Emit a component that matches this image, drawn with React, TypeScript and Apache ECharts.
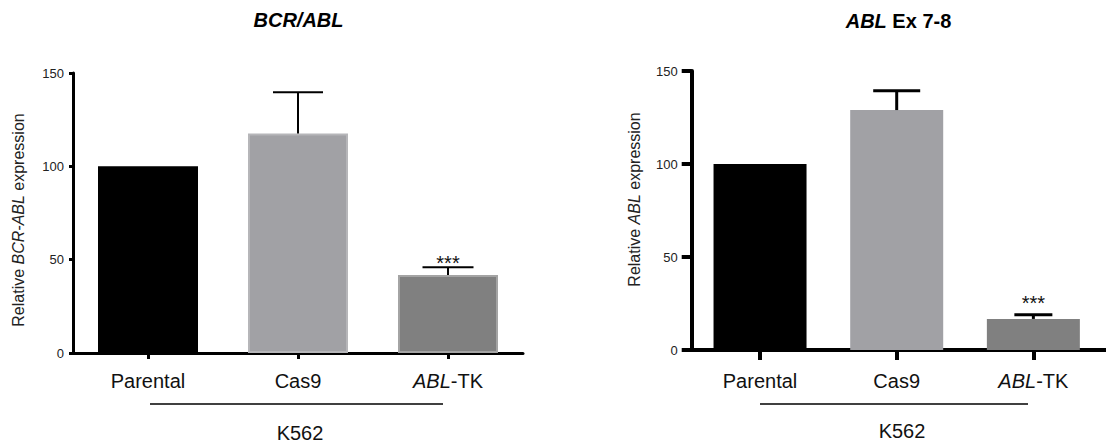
import React, { useEffect, useRef } from "react";
import * as echarts from "echarts";

const categories = ["Parental", "Cas9", "ABL-TK"];
const leftMeans = [100, 117.6, 41.8];
const leftErrors = [0, 22.1, 4.1];
const rightMeans = [100, 129.0, 16.7];
const rightErrors = [0, 10.4, 2.3];
const significance = ["", "", "***"];
const yTicks = { min: 0, max: 150, interval: 50 };

const FONT = "'Liberation Sans', Arial, Helvetica, sans-serif";

const leftFill = ["#000000", "#a1a1a5", "#808080"];
const leftBorder = ["#000000", "#b6b6b9", "#a4a4a4"];
const rightFill = ["#000000", "#a1a1a5", "#808080"];
const leftCaps = [0, 50, 51];
const rightCaps = [0, 47, 38];

function errorSeries(
  means: number[],
  errs: number[],
  xAxisIndex: number,
  caps: number[],
  lw: number,
  sigOffset: number
) {
  return {
    type: "custom",
    xAxisIndex,
    yAxisIndex: xAxisIndex,
    z: 5,
    data: means.map((m, i) => [i, m, m + errs[i]]),
    renderItem: (params: any, api: any) => {
      const i = params.dataIndex;
      const x = api.value(0);
      const lo = api.coord([x, api.value(1)]);
      const hi = api.coord([x, api.value(2)]);
      const children: any[] = [];
      if (errs[i] > 0) {
        const half = caps[i] / 2;
        children.push({
          type: "line",
          shape: { x1: lo[0], y1: lo[1], x2: hi[0], y2: hi[1] },
          style: { stroke: "#000", lineWidth: lw },
        });
        children.push({
          type: "line",
          shape: { x1: hi[0] - half, y1: hi[1], x2: hi[0] + half, y2: hi[1] },
          style: { stroke: "#000", lineWidth: lw },
        });
      }
      if (significance[i]) {
        children.push({
          type: "text",
          x: hi[0],
          y: hi[1] + sigOffset,
          style: {
            text: significance[i],
            fontSize: 20,
            fontFamily: FONT,
            fill: "#111",
            align: "center",
            verticalAlign: "middle",
          },
        });
      }
      return { type: "group", children };
    },
  };
}

function catLabelFormatter(v: string) {
  return v === "ABL-TK" ? "{i|ABL}-TK" : v;
}

export default function App() {
  const ref = useRef<HTMLDivElement>(null);

  useEffect(() => {
    document.body.style.margin = "0";
    if (!ref.current) return;
    const chart = echarts.init(ref.current, undefined, { renderer: "svg" });

    const richItalic = {
      i: { fontStyle: "italic", fontSize: 20, fontFamily: FONT, color: "#111" },
    };

    const xAxisCommon = (lw: number, tickLen: number, margin: number) => ({
      type: "category",
      data: categories,
      boundaryGap: true,
      axisLine: { show: true, lineStyle: { color: "#000", width: lw } },
      axisTick: {
        show: true,
        alignWithLabel: true,
        length: tickLen,
        lineStyle: { color: "#000", width: lw },
      },
      axisLabel: {
        fontSize: 20,
        fontFamily: FONT,
        color: "#111",
        margin,
        formatter: catLabelFormatter,
        rich: richItalic,
      },
      splitLine: { show: false },
    });

    const yAxisCommon = (lw: number, tickLen: number, margin: number) => ({
      type: "value",
      min: yTicks.min,
      max: yTicks.max,
      interval: yTicks.interval,
      axisLine: { show: true, lineStyle: { color: "#000", width: lw } },
      axisTick: { show: true, length: tickLen, lineStyle: { color: "#000", width: lw } },
      axisLabel: { fontSize: 13, fontFamily: FONT, color: "#222", margin },
      splitLine: { show: false },
    });

    const option: any = {
      animation: false,
      backgroundColor: "#fff",
      title: [
        {
          text: "BCR/ABL",
          left: 293.5,
          top: 5,
          textAlign: "center",
          textStyle: {
            fontSize: 20,
            fontWeight: "bold",
            fontStyle: "italic",
            fontFamily: FONT,
            color: "#000",
          },
        },
        {
          text: "{i|ABL} Ex 7-8",
          left: 893.5,
          top: 6,
          textAlign: "center",
          textStyle: {
            fontSize: 20,
            fontWeight: "bold",
            fontFamily: FONT,
            color: "#000",
            rich: {
              i: {
                fontSize: 20,
                fontWeight: "bold",
                fontStyle: "italic",
                fontFamily: FONT,
                color: "#000",
              },
            },
          },
        },
      ],
      grid: [
        { left: 73, top: 73, width: 450, height: 280 },
        { left: 691.7, top: 71, width: 410, height: 279 },
      ],
      xAxis: [
        { ...xAxisCommon(3, 6, 18), gridIndex: 0 },
        { ...xAxisCommon(4, 10, 21), gridIndex: 1 },
      ],
      yAxis: [
        { ...yAxisCommon(3, 4, 9), gridIndex: 0 },
        { ...yAxisCommon(4, 10, 14), gridIndex: 1 },
      ],
      series: [
        {
          type: "bar",
          xAxisIndex: 0,
          yAxisIndex: 0,
          barWidth: 100,
          data: leftMeans.map((v, i) => ({
            value: v,
            itemStyle: { color: leftFill[i], borderColor: leftBorder[i], borderWidth: 2 },
          })),
        },
        {
          type: "bar",
          xAxisIndex: 1,
          yAxisIndex: 1,
          barWidth: 93,
          data: rightMeans.map((v, i) => ({
            value: v,
            itemStyle: { color: rightFill[i] },
          })),
        },
        errorSeries(leftMeans, leftErrors, 0, leftCaps, 2, -4.5),
        errorSeries(rightMeans, rightErrors, 1, rightCaps, 3, -12),
      ],
      graphic: [
        {
          type: "text",
          x: 18,
          y: 220,
          rotation: Math.PI / 2,
          style: {
            text: "Relative {i|BCR-ABL} expression",
            fontSize: 16,
            fontFamily: FONT,
            fill: "#222",
            align: "center",
            verticalAlign: "middle",
            rich: { i: { fontStyle: "italic", fontSize: 16, fontFamily: FONT, fill: "#222" } },
          },
        },
        {
          type: "text",
          x: 634,
          y: 199.5,
          rotation: Math.PI / 2,
          style: {
            text: "Relative {i|ABL} expression",
            fontSize: 16,
            fontFamily: FONT,
            fill: "#222",
            align: "center",
            verticalAlign: "middle",
            rich: { i: { fontStyle: "italic", fontSize: 16, fontFamily: FONT, fill: "#222" } },
          },
        },
        {
          type: "line",
          shape: { x1: 150, y1: 404, x2: 443, y2: 404 },
          style: { stroke: "#000", lineWidth: 1.5 },
        },
        {
          type: "text",
          x: 300,
          y: 433,
          style: {
            text: "K562",
            fontSize: 20,
            fontFamily: FONT,
            fill: "#111",
            align: "center",
            verticalAlign: "middle",
          },
        },
        {
          type: "line",
          shape: { x1: 760, y1: 404, x2: 1028, y2: 404 },
          style: { stroke: "#000", lineWidth: 1.5 },
        },
        {
          type: "text",
          x: 902,
          y: 431,
          style: {
            text: "K562",
            fontSize: 20,
            fontFamily: FONT,
            fill: "#111",
            align: "center",
            verticalAlign: "middle",
          },
        },
        {
          type: "line",
          shape: { x1: 1100, y1: 350, x2: 1106, y2: 350 },
          style: { stroke: "#000", lineWidth: 4 },
        },
      ],
    };

    chart.setOption(option);
    return () => chart.dispose();
  }, []);

  return <div ref={ref} style={{ width: 1106, height: 448 }} />;
}
